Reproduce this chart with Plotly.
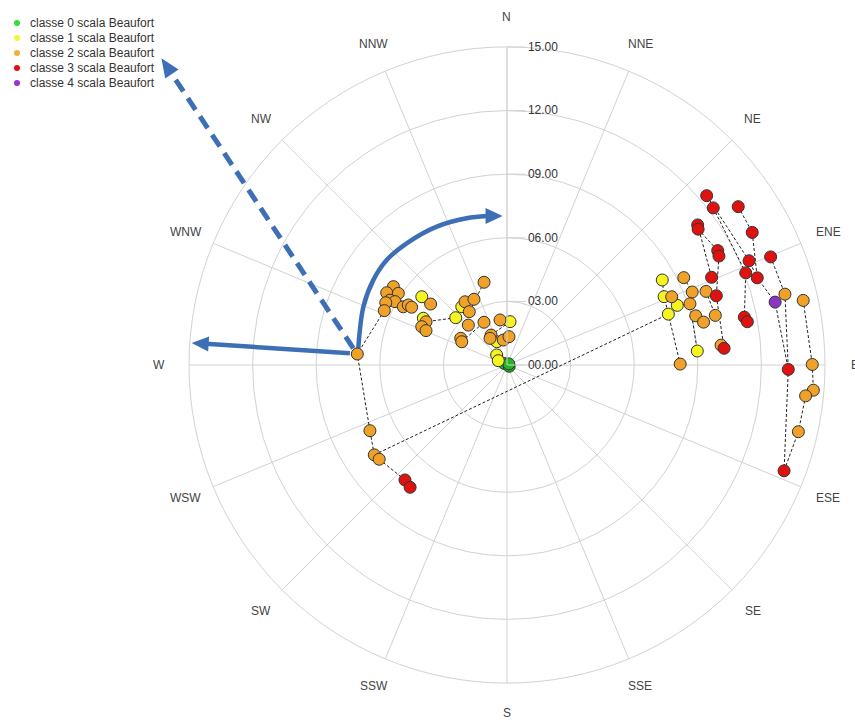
import numpy as np
import plotly.graph_objects as go

# ---------------- dati ----------------
direzioni = ["N", "NNE", "NE", "ENE", "E", "ESE", "SE", "SSE",
             "S", "SSW", "SW", "WSW", "W", "WNW", "NW", "NNW"]
angoli_direzioni = [0, 22.5, 45, 67.5, 90, 112.5, 135, 157.5,
                    180, 202.5, 225, 247.5, 270, 292.5, 315, 337.5]
valori_raggio = [0, 3, 6, 9, 12, 15]

# intensità (raggio), direzione di provenienza (gradi), classe Beaufort
velocita = [
    12.35, 12.23, 13.22, 11.16, 11.06, 13.15, 11.31, 11.24, 13.44, 12.43,
    12.07, 12.50, 10.50, 10.40, 12.99, 13.53, 14.30, 8.35, 9.30, 8.08,
    8.41, 9.39, 10.01, 8.51, 9.10, 7.98, 9.20, 9.49, 10.10, 11.42,
    11.52, 10.14, 10.27, 9.00, 8.17, 13.27, 14.40, 14.50, 14.16, 14.10,
    13.99,
    7.08, 6.51, 6.62, 6.14, 6.31, 6.07, 6.43, 6.33, 5.61, 5.45,
    5.26, 5.15, 4.61, 4.52, 4.33, 4.41, 4.15, 4.05, 3.58, 3.47,
    3.48, 3.08, 3.29, 2.62, 2.52, 2.40, 2.29, 2.15, 2.05, 1.60,
    1.49, 1.20, 1.19, 1.34, 0.68, 0.46, 0.15, 0.12, 0.10,
    7.17, 7.56, 7.49, 7.25, 7.36,
]
direzione = [
    49.7, 52.7, 55.6, 53.7, 54.6, 61.6, 61.5, 62.8, 67.7, 66.7,
    68.9, 70.8, 66.8, 71.7, 76.8, 75.7, 77.7, 61.3, 63.7, 66.5,
    67.5, 68.5, 69.7, 70.7, 71.5, 72.5, 75.4, 77.7, 76.6, 78.6,
    79.8, 84.7, 85.6, 85.8, 89.7, 90.9, 89.9, 94.7, 95.9, 102.9,
    110.9,
    274.2, 304.6, 301.0, 303.4, 299.0, 299.5, 297.2, 293.9, 299.3, 301.3,
    301.2, 308.7, 308.6, 299.2, 298.1, 294.2, 293.0, 344.5, 326.4, 333.3,
    322.2, 324.7, 312.7, 315.9, 300.0, 297.2, 331.7, 351.2, 4.0, 331.9,
    327.5, 336.2, 351.6, 4.0, 314.2, 296.3, 300.0, 120.0, 60.0,
    244.4, 235.9, 233.6, 221.6, 218.4,
]
classe = [
    3, 3, 3, 3, 3, 3, 3, 3, 3, 3,
    3, 3, 3, 3, 4, 2, 2, 1, 2, 1,
    2, 2, 2, 1, 2, 1, 2, 2, 2, 3,
    3, 2, 3, 1, 2, 3, 2, 2, 2, 2,
    3,
    2, 2, 2, 2, 2, 2, 2, 2, 2, 2,
    2, 1, 2, 1, 2, 2, 2, 2, 2, 2,
    1, 2, 1, 2, 2, 2, 2, 2, 1, 2,
    2, 1, 2, 2, 1, 1, 0, 0, 0,
    2, 2, 2, 3, 3,
]

# sequenze di rilevazioni collegate (indici nei vettori sopra)
percorsi = [
    [0, 9, 11, 14, 35, 40],
    [1, 10, 29, 30],
    [2, 5, 11],
    [8, 15, 35],
    [16, 36, 37, 38, 39, 40],
    [3, 12],
    [4, 6, 7, 13, 32, 31],
    [17, 19, 25],
    [18, 21, 26, 27],
    [20, 23, 24, 33],
    [22, 28],
    [81, 25, 34],
    [48, 41, 80, 81, 82, 83, 84],
    [42, 44, 49, 50, 51],
    [43, 45, 47, 48],
    [52, 53],
    [54, 56, 57],
    [58, 62],
    [63, 55],
    [66, 67],
    [70, 69],
    [72, 71],
    [75, 76, 77],
]

nomi_classi = ["classe 0 scala Beaufort", "classe 1 scala Beaufort",
               "classe 2 scala Beaufort", "classe 3 scala Beaufort",
               "classe 4 scala Beaufort"]
colori_classi = ["#22b422", "#f6f41e", "#f0a127", "#e0120f", "#8e33c8"]
colori_legenda = ["#33dd33", "#f5f53a", "#f0b035", "#e01010", "#9933cc"]

# frecce di direzione (raggio, gradi)
freccia_tratteggiata = [(7.29, 276.2), (21.8, 311.6)]
freccia_piena = [(7.43, 274.3), (14.91, 274.0)]
arco_r = [7.06, 7.31, 7.47, 7.53, 7.44, 7.32, 7.18, 7.09]
arco_theta = [276.4, 292.1, 302.4, 311.1, 320.5, 333.1, 344.6, 352.2]
punta_arco = (7.03, 358.3)

# ---------------- geometria della pagina ----------------
LARG, ALT = 855, 720
CX, CY, RAGGIO = 507, 365, 318
R_MAX = 15
R_ETICHETTE = 16.4          # raggio delle etichette dei punti cardinali
BLU = "#3d6fb6"

# legenda compatta in alto a sinistra (pixel)
LEG_X_PUNTO, LEG_X_TESTO, LEG_Y0, LEG_PASSO, LEG_DIAM = 17, 28, 23, 15, 6


def in_pixel(r, th):
    a = np.radians(th)
    k = RAGGIO / R_MAX
    return CX + r * k * np.sin(a), CY - r * k * np.cos(a)


def in_carta(px, py):
    return px / LARG, 1 - py / ALT


def punta(p_tip, p_from, lung, semilarg):
    """Triangolo pieno della punta di freccia, in coordinate carta."""
    tx, ty = p_tip
    fx, fy = p_from
    d = np.array([tx - fx, ty - fy], dtype=float)
    d /= np.hypot(*d)
    n = np.array([-d[1], d[0]])
    bx, by = tx - lung * d[0], ty - lung * d[1]
    pts = [(tx, ty), (bx + semilarg * n[0], by + semilarg * n[1]),
           (bx - semilarg * n[0], by - semilarg * n[1])]
    pts = [in_carta(*p) for p in pts]
    path = "M {} {} L {} {} L {} {} Z".format(*[v for p in pts for v in p])
    return dict(type="path", xref="paper", yref="paper", path=path,
                fillcolor=BLU, line=dict(width=0), layer="above")


def base_punta(p_tip, p_from, lung):
    tx, ty = p_tip
    fx, fy = p_from
    d = np.array([tx - fx, ty - fy], dtype=float)
    d /= np.hypot(*d)
    return tx - lung * d[0], ty - lung * d[1]


fig = go.Figure()

# arco curvo (sotto i punti)
fig.add_trace(go.Scatterpolar(
    r=arco_r, theta=arco_theta, mode="lines",
    line=dict(color=BLU, width=4.5, shape="spline"),
    showlegend=False, hoverinfo="skip"))

# collegamenti tratteggiati
r_lin, t_lin = [], []
for p in percorsi:
    for i in p:
        r_lin.append(velocita[i])
        t_lin.append(direzione[i])
    r_lin.append(None)
    t_lin.append(None)
fig.add_trace(go.Scatterpolar(
    r=r_lin, theta=t_lin, mode="lines", connectgaps=False,
    line=dict(color="#222222", width=1, dash="3px,2px"),
    showlegend=False, hoverinfo="skip"))

# punti per classe
for k in range(5):
    idx = [i for i, c in enumerate(classe) if c == k]
    fig.add_trace(go.Scatterpolar(
        r=[velocita[i] for i in idx], theta=[direzione[i] for i in idx],
        mode="markers", name=nomi_classi[k], showlegend=False,
        marker=dict(size=12, color=colori_classi[k],
                    line=dict(color="#333333", width=1))))

# frecce blu
forme = []
p0 = in_pixel(*freccia_tratteggiata[0])
p1 = in_pixel(*freccia_tratteggiata[1])
b = base_punta(p1, p0, 16)
x0, y0 = in_carta(*p0)
x1, y1 = in_carta(*b)
forme.append(dict(type="line", xref="paper", yref="paper", x0=x0, y0=y0,
                  x1=x1, y1=y1, line=dict(color=BLU, width=5, dash="14px,8px"),
                  layer="above"))
forme.append(punta(p1, p0, 19, 8))

p0 = in_pixel(*freccia_piena[0])
p1 = in_pixel(*freccia_piena[1])
b = base_punta(p1, p0, 14)
x0, y0 = in_carta(*p0)
x1, y1 = in_carta(*b)
forme.append(dict(type="line", xref="paper", yref="paper", x0=x0, y0=y0,
                  x1=x1, y1=y1, line=dict(color=BLU, width=4.5),
                  layer="above"))
forme.append(punta(p1, p0, 17, 7.5))

pa = in_pixel(arco_r[-1], arco_theta[-1])
pt = in_pixel(*punta_arco)
forme.append(punta(pt, pa, 17, 8))

note = []

# etichette dei punti cardinali, centrate su un cerchio esterno
for nome, ang in zip(direzioni, angoli_direzioni):
    xe, ye = in_carta(*in_pixel(R_ETICHETTE, ang))
    note.append(dict(text=nome, x=xe, y=ye, xref="paper", yref="paper",
                     xanchor="center", yanchor="middle", showarrow=False,
                     borderpad=0,
                     font=dict(size=12, color="#444444")))

# legenda: pallino colorato + testo per ogni classe
for k in range(5):
    yc = LEG_Y0 + k * LEG_PASSO
    xa, ya = in_carta(LEG_X_PUNTO - LEG_DIAM / 2, yc + LEG_DIAM / 2)
    xb, yb = in_carta(LEG_X_PUNTO + LEG_DIAM / 2, yc - LEG_DIAM / 2)
    forme.append(dict(type="circle", xref="paper", yref="paper",
                      x0=xa, y0=ya, x1=xb, y1=yb,
                      fillcolor=colori_legenda[k], line=dict(width=0)))
    xt, yt = in_carta(LEG_X_TESTO, yc)
    note.append(dict(text=nomi_classi[k], x=xt, y=yt, xref="paper", yref="paper",
                     xanchor="left", yanchor="middle", showarrow=False,
                     font=dict(size=12, color="#333333")))

fig.update_layout(
    width=LARG, height=ALT, autosize=False,
    margin=dict(l=0, r=0, t=0, b=0),
    paper_bgcolor="white",
    font=dict(family="Arial, Liberation Sans, sans-serif", size=12, color="#333333"),
    shapes=forme,
    annotations=note,
    showlegend=False,
    polar=dict(
        domain=dict(x=[(CX - RAGGIO) / LARG, (CX + RAGGIO) / LARG],
                    y=[1 - (CY + RAGGIO) / ALT, 1 - (CY - RAGGIO) / ALT]),
        bgcolor="white",
        angularaxis=dict(
            rotation=90, direction="clockwise",
            tickmode="array", tickvals=angoli_direzioni, ticktext=direzioni,
            showticklabels=False, ticks="",
            showline=True, linecolor="#d2d2d2", linewidth=1,
            gridcolor="#d2d2d2", gridwidth=1,
        ),
        radialaxis=dict(
            range=[0, R_MAX], angle=90, side="clockwise",
            tickmode="array", tickvals=valori_raggio, tickformat="05.2f",
            tickangle=90, ticks="outside", ticklen=18, tickcolor="#d2d2d2",
            tickfont=dict(size=12, color="#333333"),
            showline=True, linecolor="#d2d2d2",
            gridcolor="#d2d2d2", gridwidth=1,
        ),
    ),
)

fig.write_html("out.html")
